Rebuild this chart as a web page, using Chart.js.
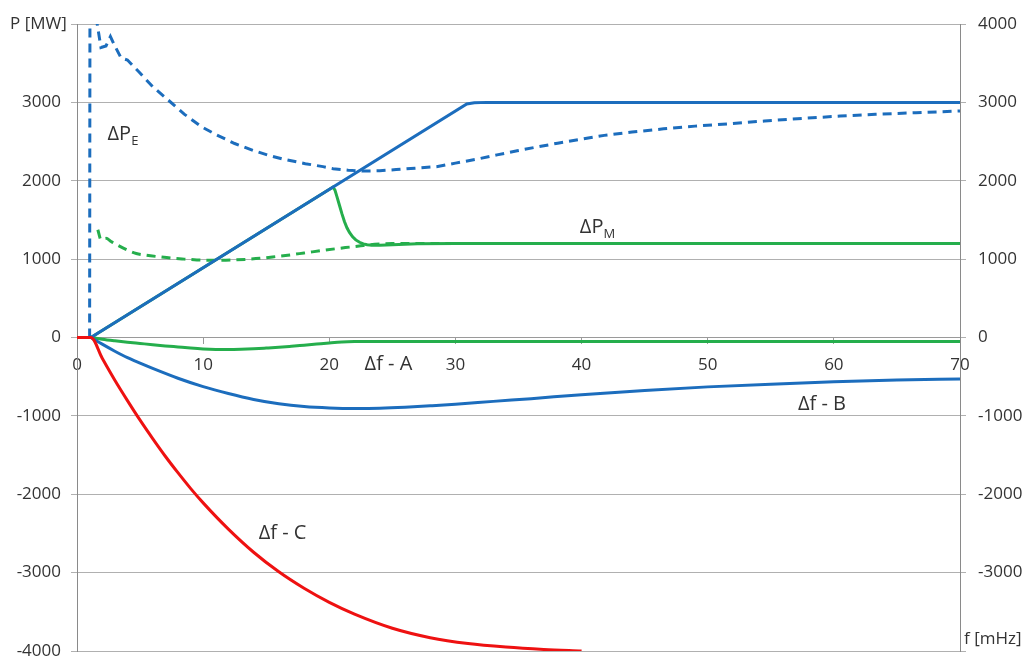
<!DOCTYPE html>
<html><head><meta charset="utf-8">
<script src="https://cdn.jsdelivr.net/npm/chart.js@4.4.1/dist/chart.umd.min.js"></script>
<style>html,body{margin:0;padding:0;background:#fff;overflow:hidden}#wrap{width:1026px;height:657px}</style>
</head><body><div id="wrap"><canvas id="c" width="1026" height="657"></canvas></div>
<script>
// x-axis range / ticks (f [mHz]) and y-axis range (P [MW])
const xMin = 0, xMax = 70, xStep = 10;
const yMin = -4000, yMax = 4000, yStep = 1000;
const leftHidden = [4000];   // left axis: top label replaced by axis title
const rightHidden = [-4000]; // right axis: bottom label replaced by axis title

// Δf - C (red)
const redX = [0, 1.1, 2, 3, 4, 5, 6, 7, 8, 9, 10, 12, 14, 16, 18, 20, 22, 25, 28, 31, 34, 37, 40];
const redY = [0, 0, -265, -545, -805, -1055, -1290, -1515, -1725, -1925, -2110, -2445, -2740, -2990, -3200, -3380, -3530, -3710, -3830, -3905, -3950, -3980, -4000];

// Δf - B (blue solid, negative)
const bX = [1.1, 2, 3, 4, 5, 6, 8, 10, 12, 14, 16, 18, 20, 22, 24, 26, 28, 30, 33, 36, 40, 45, 50, 55, 60, 65, 70];
const bY = [0, -85, -175, -258, -328, -395, -520, -627, -715, -790, -845, -880, -898, -905, -902, -890, -872, -852, -815, -780, -730, -675, -630, -595, -565, -543, -528];

// Δf - A (green solid, negative)
const aX = [1.1, 2, 3, 4, 5, 6, 7, 8, 9, 10, 11, 12, 13, 14, 15, 16, 17, 18, 19, 20, 21, 22, 23, 25, 70];
const aY = [0, -22, -42, -60, -76, -92, -107, -121, -135, -146, -152, -153, -150, -144, -135, -125, -112, -98, -84, -70, -58, -52, -50, -50, -50];

// Blue solid ramp (case B)
const rampX = [1.1, 30.9, 31.5, 32.5, 70];
const rampY = [0, 2980, 2996, 3000, 3000];

// Green solid ΔP_M (case A)
const pmX = [1.1, 20.3, 20.45, 20.6, 20.8, 21.0, 21.2, 21.4, 21.6, 21.85, 22.1, 22.4, 22.7, 23.0, 23.4, 24.0, 25.0, 27.0, 30.0, 70];
const pmY = [0, 1920, 1880, 1800, 1690, 1580, 1480, 1400, 1340, 1285, 1245, 1215, 1195, 1183, 1177, 1176, 1183, 1195, 1200, 1200];

// Blue dashed ΔP_E (case B)
const peBX = [1.0, 1.03, 1.35, 1.6, 1.9, 2.3, 2.65, 3.0, 3.5, 4.0, 4.9, 6.0, 7.25, 8.5, 9.9, 11.0, 12.5, 14.0, 15.2, 16.5, 18.1, 19.5, 20.3, 21.5, 22.6, 24.0, 25.3, 26.8, 28.5, 30.0, 31.7, 33.3, 34.9, 36.5, 38.1, 40.0, 41.8, 44.0, 46.5, 49.0, 51.7, 54.5, 57.5, 60.5, 63.3, 66.5, 70];
const peBY = [0, 4700, 4700, 4000, 3700, 3720, 3840, 3720, 3565, 3540, 3390, 3200, 3027, 2850, 2686, 2590, 2475, 2385, 2324, 2270, 2218, 2180, 2154, 2135, 2124, 2128, 2142, 2160, 2180, 2225, 2275, 2330, 2383, 2432, 2479, 2530, 2579, 2622, 2662, 2697, 2727, 2762, 2796, 2825, 2848, 2868, 2890];

// Green dashed ΔP_E (case A)
const peAX = [1.65, 1.9, 2.3, 2.7, 3.2, 4.0, 4.7, 5.5, 6.5, 7.5, 8.5, 9.5, 10.5, 11.5, 12.5, 13.5, 14.5, 15.5, 16.7, 18.0, 19.5, 20.5, 21.6, 22.5, 23.2, 24.0, 25.0, 26.0, 70];
const peAY = [1375, 1250, 1265, 1225, 1180, 1115, 1072, 1050, 1030, 1012, 1000, 990, 986, 985, 990, 998, 1010, 1028, 1050, 1078, 1111, 1132, 1153, 1170, 1183, 1192, 1198, 1200, 1200];

// Text labels anchored at data coordinates
const labels = [
  {main: 'ΔP', sub: 'E', x: 2.42, y: 2519},
  {main: 'ΔP', sub: 'M', x: 39.86, y: 1332},
  {main: 'Δf - A', sub: '', x: 22.8, y: -418},
  {main: 'Δf - B', sub: '', x: 57.15, y: -929},
  {main: 'Δf - C', sub: '', x: 14.4, y: -2577}
];
const yTitle = 'P [MW]';
const xTitle = 'f [mHz]';

const BLUE = '#1c6dbd', GREEN = '#25ae4c', RED = '#ee1111';
const FONT = 'Open Sans';
const pts = (xs, ys) => xs.map((x, i) => ({x: x, y: ys[i]}));

const textPlugin = {
  id: 'texts',
  afterDatasetsDraw(chart) {
    const {ctx, scales: {x, y}, chartArea} = chart;
    ctx.save();
    ctx.fillStyle = '#333';
    ctx.textBaseline = 'alphabetic';
    ctx.textAlign = 'left';
    labels.forEach(l => {
      const px = x.getPixelForValue(l.x), py = y.getPixelForValue(l.y);
      ctx.font = '20px "' + FONT + '"';
      ctx.fillText(l.main, px, py);
      if (l.sub) {
        const w = ctx.measureText(l.main).width;
        ctx.font = '13px "' + FONT + '"';
        ctx.fillText(l.sub, px + w, py + 5);
      }
    });
    ctx.font = '17px "' + FONT + '"';
    ctx.fillText(yTitle, chartArea.left - 67, chartArea.top + 5);
    ctx.fillText(xTitle, chartArea.right + 4, chartArea.bottom - 7);
    ctx.restore();
  }
};

function noPad(s) { s.paddingTop = 0; s.paddingBottom = 0; s.paddingLeft = 0; s.paddingRight = 0; }

const tickFont = {family: FONT, size: 17};
new Chart(document.getElementById('c'), {
  type: 'line',
  data: {
    datasets: [
      {data: pts(redX, redY), borderColor: RED, borderWidth: 3, cubicInterpolationMode: 'monotone', order: 1},
      {data: pts(rampX, rampY), borderColor: BLUE, borderWidth: 3, tension: 0, order: 2},
      {data: pts(bX, bY), borderColor: BLUE, borderWidth: 3, cubicInterpolationMode: 'monotone', order: 3},
      {data: pts(aX, aY), borderColor: GREEN, borderWidth: 3, cubicInterpolationMode: 'monotone', order: 4},
      {data: pts(pmX, pmY), borderColor: GREEN, borderWidth: 3, tension: 0, order: 5},
      {data: pts(peBX, peBY), borderColor: BLUE, borderWidth: 3, borderDash: [9, 6], tension: 0, order: 6},
      {data: pts(peAX, peAY), borderColor: GREEN, borderWidth: 3, borderDash: [9, 6], cubicInterpolationMode: 'monotone', order: 7}
    ]
  },
  options: {
    responsive: false, animation: false, devicePixelRatio: 1,
    layout: {padding: {top: 24, bottom: 6, left: 0, right: 0}},
    plugins: {legend: {display: false}, tooltip: {enabled: false}},
    elements: {point: {radius: 0}, line: {fill: false}},
    scales: {
      x: {
        type: 'linear', min: xMin, max: xMax, position: {y: 0},
        ticks: {stepSize: xStep, color: '#333', font: tickFont, padding: 11, maxRotation: 0},
        grid: {drawOnChartArea: false, drawTicks: true, tickLength: 6, color: '#9a9a9a'},
        border: {display: true, color: '#9a9a9a'},
        afterFit(s) { noPad(s); s.height = 0; }
      },
      y: {
        position: 'left', min: yMin, max: yMax,
        ticks: {stepSize: yStep, color: '#333', font: tickFont, padding: 10,
                callback: v => leftHidden.includes(v) ? '' : String(v)},
        grid: {color: '#b0b0b0', tickLength: 6},
        border: {display: true, color: '#8a8a8a'},
        afterFit(s) { noPad(s); s.width = 77; }
      },
      y2: {
        position: 'right', min: yMin, max: yMax,
        ticks: {stepSize: yStep, color: '#333', font: tickFont, padding: 12,
                callback: v => rightHidden.includes(v) ? '' : String(v)},
        grid: {drawOnChartArea: false, tickLength: 6, color: '#b0b0b0'},
        border: {display: true, color: '#8a8a8a'},
        afterFit(s) { noPad(s); s.width = 66; }
      }
    }
  },
  plugins: [textPlugin]
});
</script></body></html>
